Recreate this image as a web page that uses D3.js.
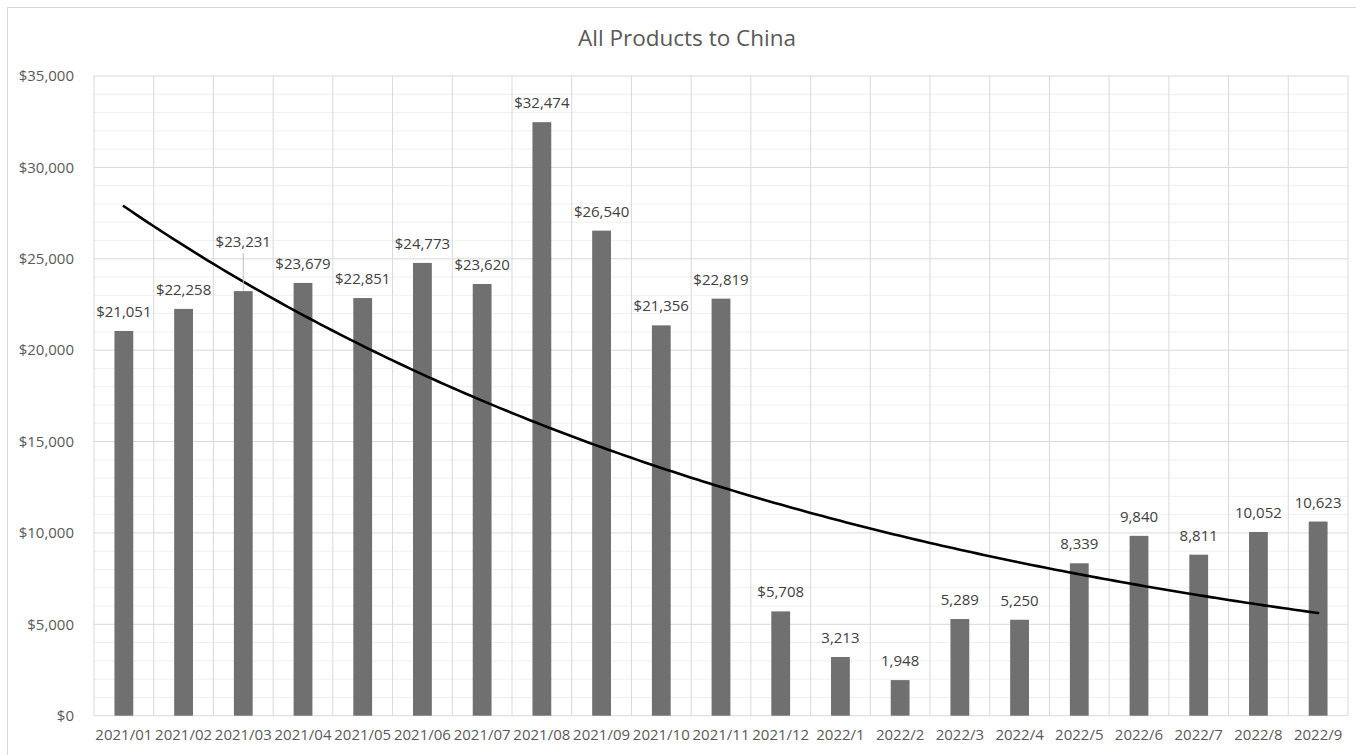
<!DOCTYPE html>
<html>
<head>
<meta charset="utf-8">
<script src="https://cdn.jsdelivr.net/npm/d3@7"></script>
<style>
  html, body { margin: 0; padding: 0; background: #fff; }
  svg { display: block; font-family: "Open Sans", "Liberation Sans", sans-serif; }
</style>
</head>
<body>
<svg id="chart" width="1356" height="755"></svg>
<script>
const categories = ["2021/01","2021/02","2021/03","2021/04","2021/05","2021/06","2021/07","2021/08","2021/09","2021/10","2021/11","2021/12","2022/1","2022/2","2022/3","2022/4","2022/5","2022/6","2022/7","2022/8","2022/9"];
const values = [21051,22258,23231,23679,22851,24773,23620,32474,26540,21356,22819,5708,3213,1948,5289,5250,8339,9840,8811,10052,10623];
const labelHasDollar = [true,true,true,true,true,true,true,true,true,true,true,true,false,false,false,false,false,false,false,false,false];
const yTicks = [0,5000,10000,15000,20000,25000,30000,35000];
const title = "All Products to China";

const svg = d3.select("#chart");
const W = 1356, H = 755;
const m = {left: 94, right: 8, top: 76, bottom: 39.3};
const pw = W - m.left - m.right, ph = H - m.top - m.bottom;

// outer chart border (top & left visible)
svg.append("line").attr("x1",7).attr("x2",W).attr("y1",7.5).attr("y2",7.5).attr("stroke","#d9d9d9").attr("stroke-width",1);
svg.append("line").attr("x1",7.5).attr("x2",7.5).attr("y1",7).attr("y2",H).attr("stroke","#d9d9d9").attr("stroke-width",1);

const g = svg.append("g").attr("transform",`translate(${m.left},${m.top})`);

const x = d3.scaleBand().domain(categories).range([0,pw]).paddingInner(0).paddingOuter(0);
const y = d3.scaleLinear().domain([0,35000]).range([ph,0]);

// minor gridlines
const minor = d3.range(1000,35000,1000).filter(v => v % 5000 !== 0);
g.append("g").selectAll("line").data(minor).join("line")
  .attr("x1",0).attr("x2",pw).attr("y1",d=>y(d)).attr("y2",d=>y(d))
  .attr("stroke","#f0f0f0").attr("stroke-width",1);

// major gridlines
g.append("g").selectAll("line").data(yTicks).join("line")
  .attr("x1",0).attr("x2",pw).attr("y1",d=>y(d)).attr("y2",d=>y(d))
  .attr("stroke","#d9d9d9").attr("stroke-width",1);

// vertical gridlines at category boundaries
const bounds = categories.map(c => x(c)).concat([pw]);
g.append("g").selectAll("line").data(bounds).join("line")
  .attr("x1",d=>d).attr("x2",d=>d).attr("y1",0).attr("y2",ph)
  .attr("stroke","#d9d9d9").attr("stroke-width",1);

// bars
const barW = x.bandwidth() * 0.315;
g.append("g").selectAll("rect").data(values).join("rect")
  .attr("x",(d,i)=>x(categories[i]) + x.bandwidth()/2 - barW/2)
  .attr("y",d=>y(d))
  .attr("width",barW)
  .attr("height",d=>ph - y(d))
  .attr("fill","#707070");

// Y axis labels
const yAxis = d3.axisLeft(y).tickValues(yTicks).tickSize(0).tickPadding(20)
  .tickFormat(d => "$" + d3.format(",")(d));
const ya = g.append("g").call(yAxis);
ya.select(".domain").remove();
ya.selectAll("text").attr("fill","#595959").style("font-size","15px").style("font-family","'Open Sans', sans-serif");

// X axis labels
const xAxis = d3.axisBottom(x).tickSize(0).tickPadding(14);
const xa = g.append("g").attr("transform",`translate(0,${ph})`).call(xAxis);
xa.select(".domain").remove();
xa.selectAll("text").attr("fill","#595959").style("font-size","15px").style("font-family","'Open Sans', sans-serif");

// exponential trendline (least squares fit of ln(y) on x = 1..n)
const n = values.length;
const xs = d3.range(1, n+1);
const lny = values.map(v => Math.log(v));
const mx = d3.mean(xs), my = d3.mean(lny);
const b = d3.sum(xs.map((xi,i)=>(xi-mx)*(lny[i]-my))) / d3.sum(xs.map(xi=>(xi-mx)**2));
const a = Math.exp(my - b*mx);
const trendPts = d3.range(1, n + 0.001, 0.1).map(t => [t, a*Math.exp(b*t)]);
const xPos = t => x.bandwidth()*(t-0.5);
g.append("path").datum(trendPts)
  .attr("d", d3.line().x(d=>xPos(d[0])).y(d=>y(d[1])).curve(d3.curveLinear))
  .attr("fill","none").attr("stroke","#000").attr("stroke-width",2.6).attr("stroke-linecap","round");

// data labels
const fmt = d3.format(",");
const labelOffset = values.map((v,i) => i === 2 ? 40 : 10);
const lbl = g.append("g");
values.forEach((v,i) => {
  const cx = x(categories[i]) + x.bandwidth()/2;
  const base = y(v) - labelOffset[i] - 4;
  if (i === 2) {
    lbl.append("line").attr("x1",cx).attr("x2",cx).attr("y1",base+6).attr("y2",y(v))
      .attr("stroke","#bfbfbf").attr("stroke-width",1);
  }
  lbl.append("text").attr("x",cx).attr("y",base)
    .attr("text-anchor","middle").attr("fill","#404040")
    .style("font-size","15px")
    .text((labelHasDollar[i] ? "$" : "") + fmt(v));
});

// title
svg.append("text").attr("x", 687).attr("y", 46)
  .attr("text-anchor","middle").attr("fill","#595959")
  .style("font-size","22.5px").text(title);
</script>
</body>
</html>
